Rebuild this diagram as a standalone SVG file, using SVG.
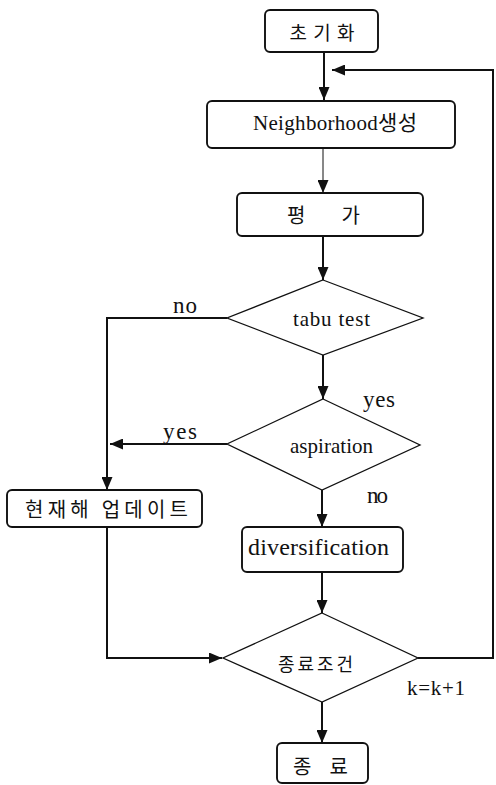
<svg xmlns="http://www.w3.org/2000/svg" width="496" height="785" viewBox="0 0 496 785">
<defs>
<marker id="ah" markerUnits="userSpaceOnUse" markerWidth="13" markerHeight="11" refX="13" refY="5.5" orient="auto">
<path d="M0,0 L13,5.5 L0,11 z" fill="#111"/>
</marker>
</defs>
<style>
.box{fill:#fff;stroke:#111;stroke-width:1.9}
.dia{fill:#fff;stroke:#111;stroke-width:1.3}
.ln{fill:none;stroke:#111;stroke-width:2}
.thin{fill:none;stroke:#111;stroke-width:1}
.ko{font-family:"Noto Sans CJK KR","Noto Sans CJK SC",sans-serif;fill:#111;text-anchor:middle;dominant-baseline:central}
.la{font-family:"Liberation Serif","DejaVu Serif","Noto Sans CJK KR",serif;fill:#111;text-anchor:middle}
</style>
<rect width="496" height="785" fill="#fff"/>
<g id="connectors">
<path class="ln" d="M324,52 V100" marker-end="url(#ah)"/>
<path class="thin" d="M323,148 V193" marker-end="url(#ah)"/>
<path class="ln" d="M323,236 V280" marker-end="url(#ah)"/>
<path class="ln" d="M323,355 V399" marker-end="url(#ah)"/>
<path class="ln" d="M227,318 H107 V490" marker-end="url(#ah)"/>
<path class="ln" d="M227,444 H110" marker-end="url(#ah)"/>
<path class="ln" d="M322,490 V527" marker-end="url(#ah)"/>
<path class="ln" d="M107,527 V658 H222" marker-end="url(#ah)"/>
<path class="ln" d="M322,572 V613" marker-end="url(#ah)"/>
<path class="ln" d="M322,702 V743" marker-end="url(#ah)"/>
<path class="ln" d="M418,658 H493 V70 H332" marker-end="url(#ah)"/>
<text class="la" x="185" y="313" font-size="23" textLength="24">no</text>
<text class="la" x="379" y="407" font-size="23" textLength="32">yes</text>
<text class="la" x="180" y="439" font-size="23" textLength="34">yes</text>
<text class="la" x="377.5" y="503" font-size="23" textLength="21">no</text>
<text class="la" x="436" y="695" font-size="21" textLength="58">k=k+1</text>
</g>
<g id="init">
<rect class="box" x="265" y="10" width="113" height="42" rx="5"/>
<text class="ko" x="322" y="31" font-size="19" textLength="65">초기화</text>
</g>
<g id="neighborhood">
<rect class="box" x="207" y="101" width="248" height="47" rx="5"/>
<text class="la" x="335" y="130" font-size="21" textLength="164">Neighborhood생성</text>
</g>
<g id="evaluate">
<rect class="box" x="237" y="193" width="186" height="43" rx="5"/>
<text class="ko" x="323.5" y="214" font-size="20" textLength="73">평   가</text>
</g>
<g id="tabu">
<polygon class="dia" points="323,280 423,318 323,355 227,318"/>
<text class="la" x="331.5" y="326" font-size="21" textLength="77">tabu test</text>
</g>
<g id="aspiration">
<polygon class="dia" points="323,399 420,445 322,490 227,444"/>
<text class="la" x="331.5" y="453" font-size="21" textLength="83">aspiration</text>
</g>
<g id="update">
<rect class="box" x="7" y="490" width="195" height="37" rx="5"/>
<text class="ko" x="106.5" y="508" font-size="20" textLength="163">현재해 업데이트</text>
</g>
<g id="diversification">
<rect class="box" x="242" y="527" width="161" height="45" rx="5"/>
<text class="la" x="318.5" y="555" font-size="24" textLength="141">diversification</text>
</g>
<g id="stopcond">
<polygon class="dia" points="322,613 418,658 322,702 223,658"/>
<text class="ko" x="315.5" y="663" font-size="18" textLength="75">종료조건</text>
</g>
<g id="end">
<rect class="box" x="277" y="743" width="91" height="40" rx="5"/>
<text class="ko" x="320.5" y="765" font-size="20" textLength="55">종 료</text>
</g>
</svg>
